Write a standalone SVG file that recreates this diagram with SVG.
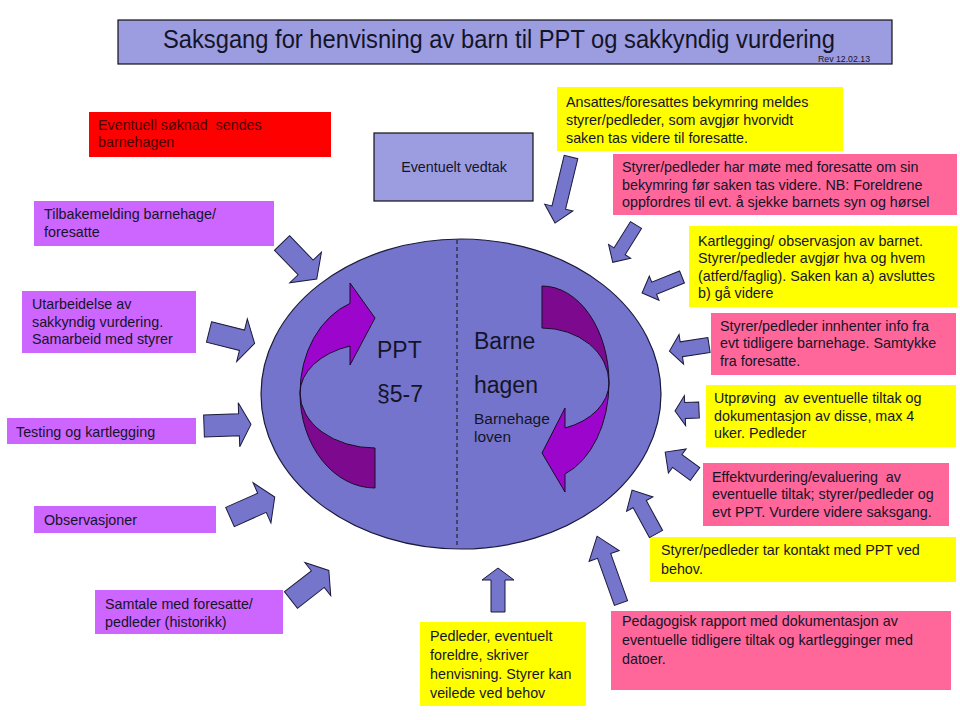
<svg xmlns="http://www.w3.org/2000/svg" width="960" height="720" viewBox="0 0 960 720">
<style>
.t{font-family:"Liberation Sans",Arial,sans-serif;font-size:14.3px;fill:#141428;white-space:pre}
.big{font-family:"Liberation Sans",Arial,sans-serif;font-size:23px;fill:#141428}
.mid{font-family:"Liberation Sans",Arial,sans-serif;font-size:15.5px;fill:#141428}
.arr{fill:#7575CC;stroke:#1a1a3a;stroke-width:1}
.yel{fill:#FFFF00}
.pink{fill:#FF6699}
.lil{fill:#CC66FF}
.lav{fill:#9C9CE0;stroke:#111;stroke-width:1.2}
</style>
<rect width="960" height="720" fill="#fff"/>

<g id="title">
<rect class="lav" x="118" y="20" width="774" height="44"/>
<text x="163" y="48" font-family="Liberation Sans, Arial, sans-serif" font-size="26" fill="#141428" textLength="672" lengthAdjust="spacingAndGlyphs">Saksgang for henvisning av barn til PPT og sakkyndig vurdering</text>
<text x="818" y="62" font-family="Liberation Sans, Arial, sans-serif" font-size="9.5" fill="#141428" textLength="52" lengthAdjust="spacingAndGlyphs">Rev 12.02.13</text>
</g>

<g id="center">
<ellipse cx="461" cy="394" rx="200" ry="155" fill="#7474CC" stroke="#1a1a3a" stroke-width="1.2"/>
<line x1="457" y1="240" x2="457" y2="548" stroke="#111" stroke-width="1" stroke-dasharray="4,3"/>
<path d="M300,393 A75,55 0 0,0 375,448 L375,488 A75,95 0 0,1 300,393 Z" fill="#7D0A8E" stroke="#1a0a2a" stroke-width="1"/>
<path d="M300,393 A75,95 0 0,1 350,303.4 L350,283 L375,318 L350,365 L350,346 A75,50 0 0,0 300,393 Z" fill="#9B05CC" stroke="#1a0a2a" stroke-width="1"/>
<path d="M542,286 A67,97 0 0,1 609,383 A67,55 0 0,0 542,328 Z" fill="#7D0A8E" stroke="#1a0a2a" stroke-width="1"/>
<path d="M609,383 A67,97 0 0,1 565,474 L565,492 L542,453 L565,408 L565,428 A67,48 0 0,0 609,383 Z" fill="#9B05CC" stroke="#1a0a2a" stroke-width="1"/>
<text class="big" x="377" y="358">PPT</text>
<text class="big" x="377" y="402">§5-7</text>
<text class="big" x="474" y="349">Barne</text>
<text class="big" x="474" y="393">hagen</text>
<text class="mid" x="474" y="424">Barnehage</text>
<text class="mid" x="474" y="442">loven</text>
</g>

<g id="n-soknad">
<rect x="89" y="112" width="242" height="45" fill="#FF0000"/>
<text class="t" x="98" y="130" style="fill:#4a0000" xml:space="preserve">Eventuell søknad  sendes</text>
<text class="t" x="98" y="147" style="fill:#4a0000">barnehagen</text>
</g>
<g id="n-vedtak">
<rect class="lav" x="374" y="133" width="159" height="68"/>
<text class="t" x="454" y="172" text-anchor="middle">Eventuelt vedtak</text>
</g>
<g id="n-tilbake">
<rect class="lil" x="34" y="201" width="240" height="45"/>
<text class="t" x="44" y="219">Tilbakemelding barnehage/</text>
<text class="t" x="44" y="237">foresatte</text>
</g>
<g id="n-utarbeid">
<rect class="lil" x="22" y="291" width="174" height="62"/>
<text class="t" x="32" y="309">Utarbeidelse av</text>
<text class="t" x="32" y="327">sakkyndig vurdering.</text>
<text class="t" x="32" y="344">Samarbeid med styrer</text>
</g>
<g id="n-testing">
<rect class="lil" x="7" y="418" width="189" height="26"/>
<text class="t" x="16" y="437">Testing og kartlegging</text>
</g>
<g id="n-obs">
<rect class="lil" x="34" y="506" width="182" height="27"/>
<text class="t" x="44" y="525">Observasjoner</text>
</g>
<g id="n-samtale">
<rect class="lil" x="95" y="590" width="188" height="44"/>
<text class="t" x="105" y="609">Samtale med foresatte/</text>
<text class="t" x="105" y="627">pedleder (historikk)</text>
</g>
<g id="n-ansattes">
<rect class="yel" x="557" y="87" width="286" height="64"/>
<text class="t" x="566" y="107">Ansattes/foresattes bekymring meldes</text>
<text class="t" x="566" y="125">styrer/pedleder, som avgjør hvorvidt</text>
<text class="t" x="566" y="143">saken tas videre til foresatte.</text>
</g>
<g id="n-mote">
<rect class="pink" x="613" y="154" width="344" height="61"/>
<text class="t" x="622" y="172">Styrer/pedleder har møte med foresatte om sin</text>
<text class="t" x="622" y="190">bekymring før saken tas videre. NB: Foreldrene</text>
<text class="t" x="622" y="207">oppfordres til evt. å sjekke barnets syn og hørsel</text>
</g>
<g id="n-kartlegging">
<rect class="yel" x="689" y="226" width="268" height="81"/>
<text class="t" x="698" y="246">Kartlegging/ observasjon av barnet.</text>
<text class="t" x="698" y="263">Styrer/pedleder avgjør hva og hvem</text>
<text class="t" x="698" y="281">(atferd/faglig). Saken kan a) avsluttes</text>
<text class="t" x="698" y="298">b) gå videre</text>
</g>
<g id="n-innhenter">
<rect class="pink" x="711" y="313" width="245" height="62"/>
<text class="t" x="720" y="331">Styrer/pedleder innhenter info fra</text>
<text class="t" x="720" y="348">evt tidligere barnehage. Samtykke</text>
<text class="t" x="720" y="366">fra foresatte.</text>
</g>
<g id="n-utproving">
<rect class="yel" x="706" y="385" width="250" height="62"/>
<text class="t" x="714" y="403" xml:space="preserve">Utprøving  av eventuelle tiltak og</text>
<text class="t" x="714" y="421">dokumentasjon av disse, max 4</text>
<text class="t" x="714" y="438">uker. Pedleder</text>
</g>
<g id="n-effekt">
<rect class="pink" x="703" y="463" width="246" height="63"/>
<text class="t" x="712" y="482" xml:space="preserve">Effektvurdering/evaluering  av</text>
<text class="t" x="712" y="499">eventuelle tiltak; styrer/pedleder og</text>
<text class="t" x="712" y="517">evt PPT. Vurdere videre saksgang.</text>
</g>
<g id="n-kontakt">
<rect class="yel" x="650" y="537" width="306" height="45"/>
<text class="t" x="661" y="555">Styrer/pedleder tar kontakt med PPT ved</text>
<text class="t" x="661" y="574">behov.</text>
</g>
<g id="n-rapport">
<rect class="pink" x="611" y="611" width="340" height="79"/>
<text class="t" x="622" y="626">Pedagogisk rapport med dokumentasjon av</text>
<text class="t" x="622" y="645">eventuelle tidligere tiltak og kartlegginger med</text>
<text class="t" x="622" y="664">datoer.</text>
</g>
<g id="n-pedleder">
<rect class="yel" x="420" y="622" width="166" height="84"/>
<text class="t" x="430" y="641">Pedleder, eventuelt</text>
<text class="t" x="430" y="660">foreldre, skriver</text>
<text class="t" x="430" y="679">henvisning. Styrer kan</text>
<text class="t" x="430" y="698">veilede ved behov</text>
</g>

<g id="connectors">
<polygon class="arr" transform="translate(282,243) rotate(46)" points="0,-10.5 34,-10.5 34,-22 50,0 34,22 34,10.5 0,10.5"/>
<polygon class="arr" transform="translate(209,332) rotate(14)" points="0,-10.5 34,-10.5 34,-22 47,0 34,22 34,10.5 0,10.5"/>
<polygon class="arr" transform="translate(204,426) rotate(-2)" points="0,-11 35,-11 35,-22 47,0 35,22 35,11 0,11"/>
<polygon class="arr" transform="translate(230,517) rotate(-24)" points="0,-10.5 35,-10.5 35,-22 49,0 35,22 35,10.5 0,10.5"/>
<polygon class="arr" transform="translate(291,600) rotate(-38)" points="0,-10.5 34,-10.5 34,-21 48,0 34,21 34,10.5 0,10.5"/>
<polygon class="arr" transform="translate(571,157) rotate(103.6)" points="0,-7 52,-7 52,-14.5 68,0 52,14.5 52,7 0,7"/>
<polygon class="arr" transform="translate(636,225) rotate(121.9)" points="0,-6.5 31,-6.5 31,-13 44,0 31,13 31,6.5 0,6.5"/>
<polygon class="arr" transform="translate(682,277) rotate(158.2)" points="0,-6.5 30,-6.5 30,-13 43,0 30,13 30,6.5 0,6.5"/>
<polygon class="arr" transform="translate(709,345) rotate(171.3)" points="0,-7.5 28,-7.5 28,-15 40,0 28,15 28,7.5 0,7.5"/>
<polygon class="arr" transform="translate(699,410) rotate(177.6)" points="0,-8 14,-8 14,-15 24,0 14,15 14,8 0,8"/>
<polygon class="arr" transform="translate(695,474) rotate(-143.7)" points="0,-8 22,-8 22,-15 37,0 22,15 22,8 0,8"/>
<polygon class="arr" transform="translate(656,534) rotate(-118.6)" points="0,-7.5 34,-7.5 34,-15 50,0 34,15 34,7.5 0,7.5"/>
<polygon class="arr" transform="translate(621,603) rotate(-109.7)" points="0,-7 50,-7 50,-16 71,0 50,16 50,7 0,7"/>
<polygon class="arr" transform="translate(498,612) rotate(-90)" points="0,-7 32,-7 32,-16 44,0 32,16 32,7 0,7"/>
</g>
</svg>
